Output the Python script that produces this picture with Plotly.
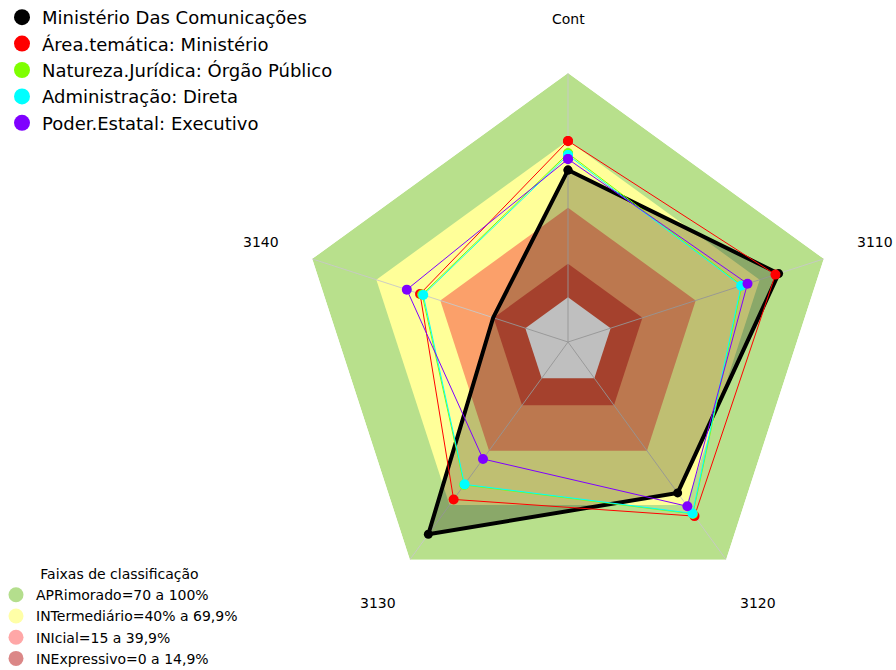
import math
import plotly.graph_objects as go

categories = ["Cont", "3110", "3120", "3130", "3140"]

series_names = [
    "Ministério Das Comunicações",
    "Área.temática: Ministério",
    "Natureza.Jurídica: Órgão Público",
    "Administração: Direta",
    "Poder.Estatal: Executivo",
]
ministerio = [56.7, 78.8, 63.2, 86.0, 15.1]
area_tematica = [69.7, 77.3, 76.0, 66.8, 49.4]
natureza = [64.2, 61.6, 74.8, 58.8, 48.4]
administracao = [63.4, 61.2, 74.5, 58.5, 47.9]
poder = [61.6, 64.2, 70.6, 44.5, 55.6]
series_values = [ministerio, area_tematica, natureza, administracao, poder]
series_colors = ["#000000", "#FF0000", "#7FFF00", "#00FFFF", "#7F00FF"]

band_names = [
    "APRimorado=70 a 100%",
    "INTermediário=40% a 69,9%",
    "INIcial=15 a 39,9%",
    "INExpressivo=0 a 14,9%",
]
band_upper = [100, 69.9, 39.9, 14.9, 0]
band_fill = ["#B8E08C", "#FFFF99", "#FBA06A", "#DD573C", "#FFFFFF"]
band_legend_colors = ["rgba(140,205,80,0.65)", "rgba(255,255,120,0.65)",
                      "rgba(255,120,120,0.65)", "rgba(200,70,70,0.65)"]

r_min, r_max = -20, 100
FONT = "DejaVu Sans"

fig = go.Figure()

closed = categories + [categories[0]]

# classification bands
for up, col in zip(band_upper, band_fill):
    fig.add_trace(go.Scatterpolar(
        r=[up] * 6, theta=closed, mode="lines", fill="toself",
        fillcolor=col, line=dict(color=col, width=0),
        showlegend=False, hoverinfo="skip"))

# spokes
for c in categories:
    fig.add_trace(go.Scatterpolar(
        r=[r_min, r_max], theta=[c, c], mode="lines",
        line=dict(color="rgba(200,200,200,0.9)", width=1),
        showlegend=False, hoverinfo="skip"))

# data series
for i, (name, vals, col) in enumerate(zip(series_names, series_values, series_colors)):
    rv = vals + [vals[0]]
    if i == 0:
        fig.add_trace(go.Scatterpolar(
            r=rv, theta=closed, mode="lines+markers", fill="toself",
            fillcolor="rgba(0,0,0,0.25)", line=dict(color=col, width=4),
            marker=dict(size=9, color=col), showlegend=False, name=name))
    else:
        fig.add_trace(go.Scatterpolar(
            r=rv, theta=closed, mode="lines+markers",
            line=dict(color=col, width=1),
            marker=dict(size=10, color=col), showlegend=False, name=name))

# legend entries for series
for name, col in zip(series_names, series_colors):
    fig.add_trace(go.Scatterpolar(
        r=[None], theta=[None], mode="markers",
        marker=dict(size=16, color=col), name=name, legend="legend"))

# legend entries for bands
for name, col in zip(band_names, band_legend_colors):
    fig.add_trace(go.Scatterpolar(
        r=[None], theta=[None], mode="markers",
        marker=dict(size=15, color=col), name=name, legend="legend2"))

W, H = 896, 670
cx, cy, R = 568, 342, 269
label_dist = 1.2 * R

annotations = []
for k, c in enumerate(categories):
    ang = math.radians(90 - 72 * k)
    px = cx + label_dist * math.cos(ang)
    py = cy - label_dist * math.sin(ang)
    annotations.append(dict(
        x=px / W, y=1 - py / H, xref="paper", yref="paper",
        text=c, showarrow=False, xanchor="center", yanchor="middle",
        font=dict(size=14, color="#000000", family=FONT)))

fig.update_layout(
    width=W, height=H,
    margin=dict(l=0, r=0, t=0, b=0, autoexpand=False),
    paper_bgcolor="white",
    font=dict(family=FONT, color="#000000"),
    annotations=annotations,
    polar=dict(
        domain=dict(x=[(cx - R) / W, (cx + R) / W],
                    y=[(H - cy - R) / H, (H - cy + R) / H]),
        gridshape="linear",
        bgcolor="rgba(0,0,0,0)",
        radialaxis=dict(range=[r_min, r_max], visible=False),
        angularaxis=dict(type="category", categoryarray=categories,
                         rotation=90, direction="clockwise",
                         showgrid=False, showline=False, showticklabels=False,
                         ticks=""),
    ),
    legend=dict(x=2 / W, y=1 + 1 / H, xanchor="left", yanchor="top",
                font=dict(size=18, family=FONT), bgcolor="rgba(0,0,0,0)",
                itemsizing="trace", tracegroupgap=0),
    legend2=dict(x=-4 / W, y=-4 / H, xanchor="left", yanchor="bottom",
                 font=dict(size=14, family=FONT), bgcolor="rgba(0,0,0,0)",
                 title=dict(text="Faixas de classificação", side="top center",
                            font=dict(size=14, family=FONT)),
                 itemsizing="trace", tracegroupgap=0),
)

fig.write_html("out.html",
               config={"displayModeBar": False},
               post_script="document.body.style.margin='0';"
                           "document.body.style.overflow='hidden';")
